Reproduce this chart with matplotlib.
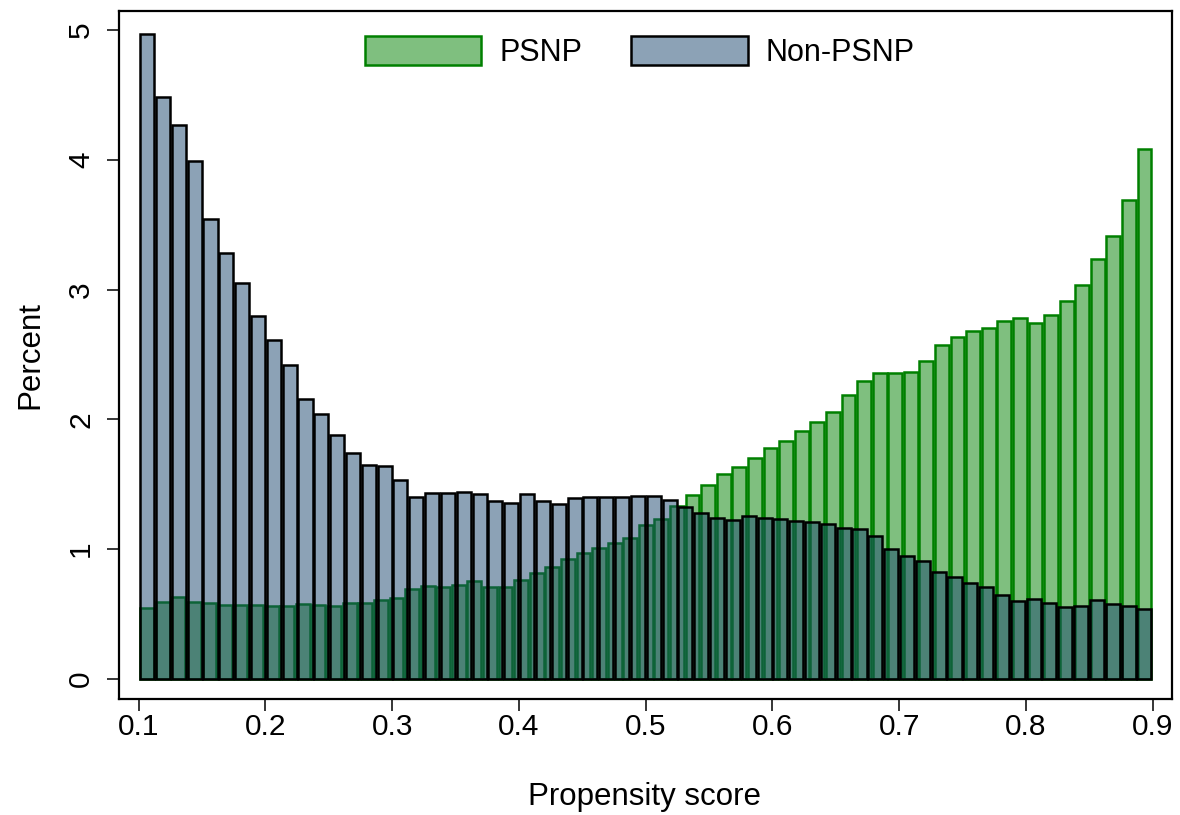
import numpy as np
import matplotlib
matplotlib.use('Agg')
import matplotlib.pyplot as plt
from matplotlib.patches import Patch

plt.rcParams['font.family'] = ['Liberation Sans', 'DejaVu Sans']

# propensity score range shared by both groups
score_min = 0.1005
score_max = 0.8997

# percent of PSNP households in each of 65 bins
psnp_pct = [0.543, 0.596, 0.633, 0.596, 0.586, 0.573, 0.570, 0.570, 0.559, 0.562,
            0.579, 0.570, 0.566, 0.589, 0.589, 0.609, 0.626, 0.696, 0.716, 0.709,
            0.722, 0.753, 0.711, 0.711, 0.763, 0.819, 0.865, 0.922, 0.973, 1.009,
            1.048, 1.086, 1.184, 1.235, 1.333, 1.421, 1.496, 1.580, 1.631, 1.701,
            1.782, 1.835, 1.911, 1.981, 2.059, 2.191, 2.297, 2.354, 2.359, 2.364,
            2.448, 2.572, 2.633, 2.681, 2.703, 2.760, 2.779, 2.740, 2.807, 2.914,
            3.039, 3.236, 3.412, 3.689, 4.081]

# percent of non-PSNP households in each of 64 bins
nonpsnp_pct = [4.97, 4.48, 4.27, 3.99, 3.54, 3.28, 3.05, 2.80, 2.61, 2.42,
               2.16, 2.04, 1.876, 1.74, 1.646, 1.64, 1.535, 1.405, 1.435, 1.435,
               1.443, 1.423, 1.369, 1.358, 1.423, 1.374, 1.346, 1.392, 1.405, 1.40,
               1.40, 1.41, 1.41, 1.38, 1.328, 1.28, 1.239, 1.225, 1.256, 1.244,
               1.23, 1.216, 1.208, 1.194, 1.163, 1.155, 1.099, 0.998, 0.945, 0.908,
               0.821, 0.785, 0.743, 0.706, 0.645, 0.597, 0.614, 0.589, 0.555, 0.561,
               0.612, 0.575, 0.566, 0.538]

xticks = [0.1, 0.2, 0.3, 0.4, 0.5, 0.6, 0.7, 0.8, 0.9]
yticks = [0, 1, 2, 3, 4, 5]

green = (0, 128 / 255, 0)
navy = (26 / 255, 71 / 255, 111 / 255)
green_fill = green + (0.5,)
navy_fill = navy + (0.5,)
edge_lw = 1.8

fig = plt.figure(figsize=(11.8, 8.15), dpi=100)
ax = fig.add_axes([0.1008, 0.1427, 0.8922, 0.8444])
ax.set_xlim(0.08446, 0.9150)
ax.set_ylim(-0.152, 5.150)

gap = 0.0014  # small space so neighbouring outlines sit side by side


def draw_hist(values, face, edge, zorder):
    edges = np.linspace(score_min, score_max, len(values) + 1)
    binw = edges[1] - edges[0]
    ax.bar(edges[:-1] + gap / 2, values, width=binw - gap, align='edge',
           facecolor=face, edgecolor=edge, linewidth=edge_lw, zorder=zorder)


draw_hist(psnp_pct, green_fill, green, 2)
draw_hist(nonpsnp_pct, navy_fill, 'black', 3)

ax.set_xticks(xticks)
ax.set_xticklabels([f'{t:.1f}' for t in xticks])
ax.set_yticks(yticks)
ax.set_yticklabels([str(t) for t in yticks], rotation=90, va='center')

for s in ax.spines.values():
    s.set_linewidth(1.6)
ax.tick_params(axis='x', length=8.3, width=1.1, pad=2, labelsize=21.5)
ax.tick_params(axis='y', length=8.6, width=1.1, pad=8.5, labelsize=21.5)

fig.text(645 / 1180, 1 - 797 / 815, 'Propensity score', ha='center', va='center', fontsize=22.5)
fig.text(30 / 1180, 1 - 355 / 815, 'Percent', ha='center', va='center', rotation=90, fontsize=22.5)

handles = [Patch(facecolor=green_fill, edgecolor=green, linewidth=edge_lw, label='PSNP'),
           Patch(facecolor=navy_fill, edgecolor='black', linewidth=edge_lw, label='Non-PSNP')]
ax.legend(handles=handles, loc='upper center', ncol=2, frameon=False, fontsize=22,
          handlelength=3.8, handleheight=1.05, handletextpad=0.6, columnspacing=1.6,
          bbox_to_anchor=(0.495, 1.0), borderaxespad=0.45)

fig.savefig('out.png', dpi=100)
